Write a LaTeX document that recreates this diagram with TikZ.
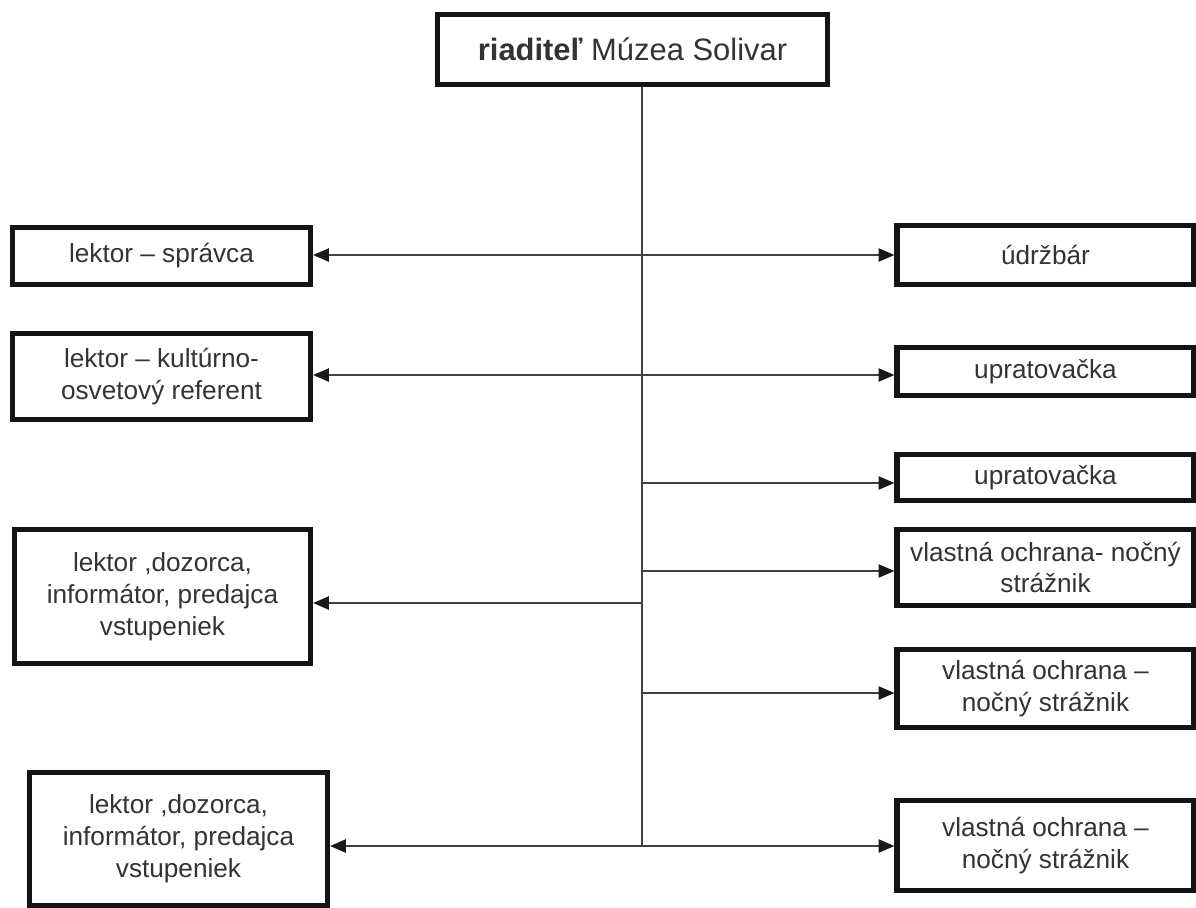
\documentclass[tikz,border=0pt]{standalone}
\usepackage{fontspec}
\setmainfont{Liberation Sans}
\usetikzlibrary{arrows.meta,positioning}
\tikzset{
every picture/.style={
line width=1pt
}}
\tikzset{
  post/.style={
    draw=black!92,
    line width=3pt,
    minimum width=5.94cm,
    inner sep=0pt,
    align=center,
    text=black!80,
    font=\fontsize{14.9}{18.1}\selectfont
  },
  link/.style={
    draw=black!75,
    line width=1.1pt
  },
  tip/.style={
    -{Triangle[length=9pt,width=7.5pt,color=black!90]}
  }
}

\begin{document}
\begin{tikzpicture}[x=0.02cm, y=-0.02cm]
\useasboundingbox (0,0) rectangle (1196,907);

\node [post, minimum width=7.8cm, minimum height=1.4cm, font=\fontsize{17.6}{21}\selectfont] at (632.5,49.5) (d) {\textbf{riaditeľ} Múzea Solivar};

\node [post, minimum width=5.96cm, minimum height=1.14cm] at (161.5,256) (l1) {lektor – správca};
\node [post, minimum width=5.96cm, minimum height=1.72cm] at (161.5,376.5) (l2) {lektor – kultúrno-\\osvetový referent};
\node [post, minimum width=5.92cm, minimum height=2.68cm] at (162.5,596.5) (l3) {lektor ,dozorca,\\informátor, predajca\\vstupeniek};
\node [post, minimum width=5.96cm, minimum height=2.66cm] at (178.5,839) (l4) {lektor ,dozorca,\\informátor, predajca\\vstupeniek};

\node [post, minimum height=1.18cm] at (1045.5,255) (r1) {údržbár};
\node [post, minimum height=0.96cm] at (1045.5,371.5) (r2) {upratovačka};
\node [post, minimum height=0.92cm] at (1045.5,477.5) (r3) {upratovačka};
\node [post, minimum height=1.52cm] at (1045.5,567.5) (r4) {vlastná ochrana- nočný\\strážnik};
\node [post, minimum height=1.56cm] at (1045.5,688.5) (r5) {vlastná ochrana –\\nočný strážnik};
\node [post, minimum height=1.8cm] at (1045.5,845.5) (r6) {vlastná ochrana –\\nočný strážnik};

% trunk
\coordinate (j1) at (642,255);
\coordinate (j2) at (642,375);
\coordinate (j3) at (642,483);
\coordinate (j4) at (642,571);
\coordinate (j5) at (642,603);
\coordinate (j6) at (642,693);
\coordinate (j7) at (642,846);
\draw [link] (d.south -| j1) -- (j7);

\foreach \j/\r in {j1/r1,j2/r2,j3/r3,j4/r4,j6/r5,j7/r6} \draw [link, tip] (\j) -- (\j -| \r.west);
\foreach \j/\l in {j1/l1,j2/l2,j5/l3,j7/l4} \draw [link, tip] (\j) -- (\j -| \l.east);

\end{tikzpicture}
\end{document}
